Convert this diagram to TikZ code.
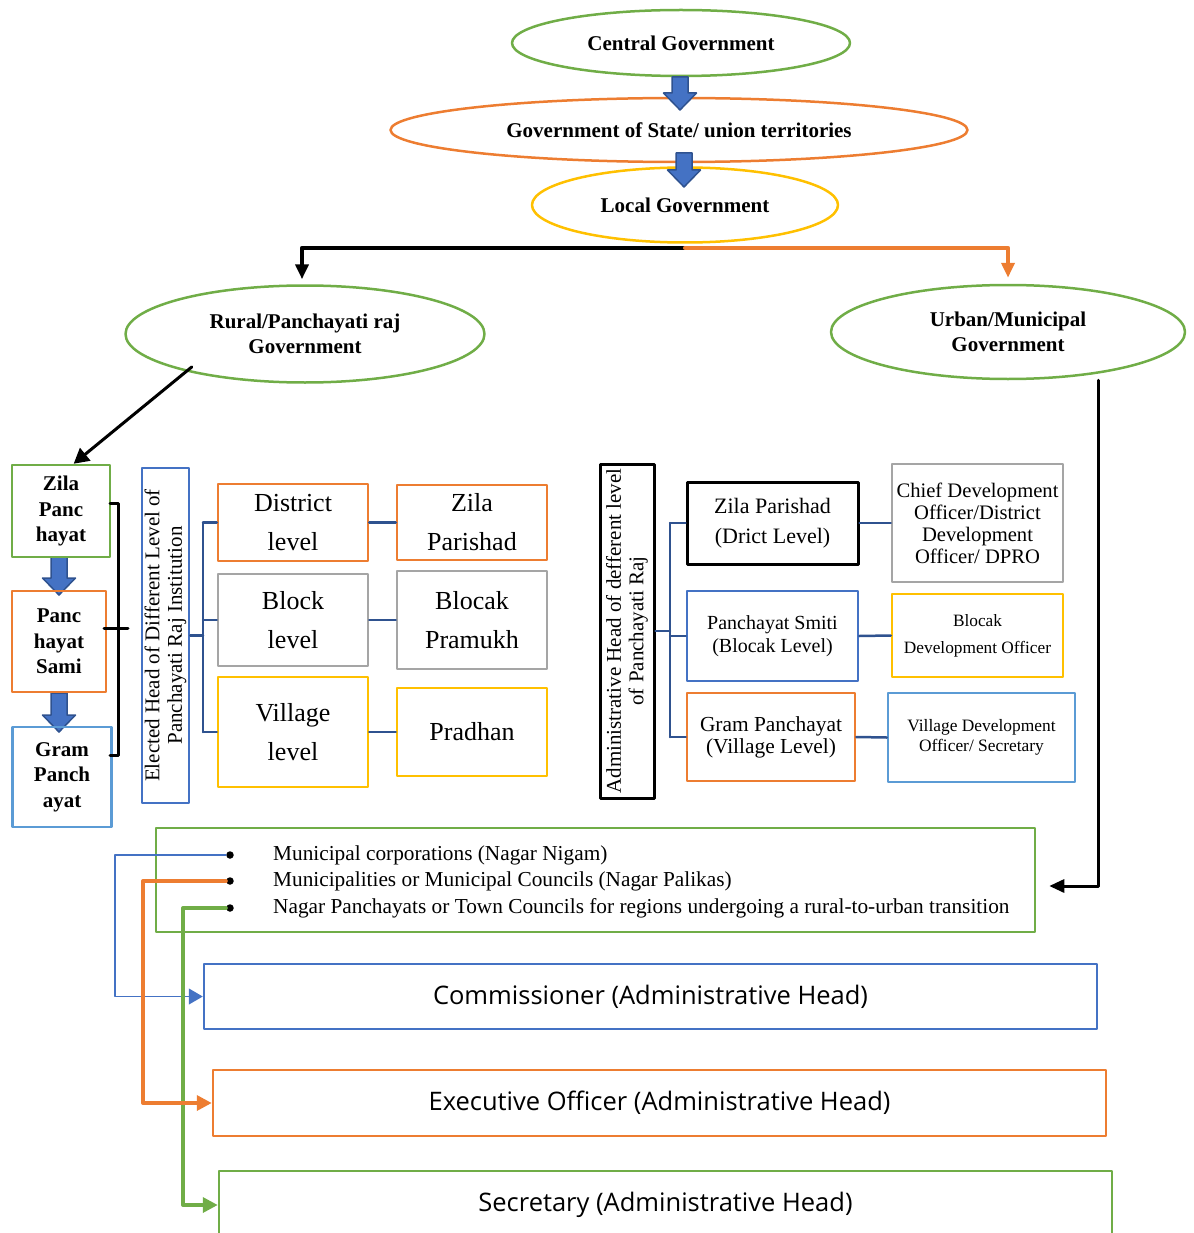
\documentclass[tikz,border=0pt]{standalone}
\usepackage{fontspec}
\setmainfont{Liberation Serif}
\setsansfont{Open Sans}
\usetikzlibrary{shapes.geometric,arrows.meta,calc}

\definecolor{cgreen}{HTML}{70AD47}
\definecolor{corange}{HTML}{ED7D31}
\definecolor{cyellow}{HTML}{FFC000}
\definecolor{cblue}{HTML}{4472C4}
\definecolor{clblue}{HTML}{5B9BD5}
\definecolor{cgray}{HTML}{A5A5A5}
\definecolor{cnavy}{HTML}{2F528F}

\tikzset{
  govell/.style={ellipse,draw,line width=2.5pt,inner sep=0pt,align=center,
    font=\bfseries\fontsize{21}{24.5}\selectfont},
  lvlbox/.style={draw,line width=2.5pt,inner sep=0pt,align=center},
  headbox/.style={draw,line width=2.5pt,inner sep=0pt,align=center,rotate=90,
    font=\fontsize{21}{22.5}\selectfont},
  tierbox/.style={lvlbox,font=\bfseries\fontsize{21}{25.5}\selectfont},
  levelbox/.style={lvlbox,minimum width=150pt,font=\fontsize{26}{39}\selectfont},
  urbhead/.style={lvlbox,minimum width=893pt,font=\sffamily\fontsize{25.5}{30}\selectfont},
  branch/.style={draw=cnavy,line width=2.5pt},
  blockarrow/.style={fill=cblue,draw=cnavy,line width=1.5pt},
  dot/.style={circle,fill=black,inner sep=0pt,minimum size=7.5pt},
  bullettext/.style={anchor=west,inner sep=0pt,font=\fontsize{21.3}{24}\selectfont}
}

\begin{document}
\begin{tikzpicture}[x=1pt,y=-1pt,line cap=round,line join=round]
  \useasboundingbox (0,0) rectangle (1193,1233);

  \node[govell,draw=cgreen,minimum width=338pt,minimum height=66pt] (cg) at (681,43) {Central Government};
  \node[govell,draw=corange,minimum width=577pt,minimum height=64pt] (sg) at (679,130) {Government of State/ union territories};
  \node[govell,draw=cyellow,minimum width=306pt,minimum height=75pt] (lg) at (685,205) {Local Government};
  \node[govell,draw=cgreen,minimum width=359pt,minimum height=97pt] (rg) at (305,334) {Rural/Panchayati raj\\Government};
  \node[govell,draw=cgreen,minimum width=354pt,minimum height=94pt] (ug) at (1008,332) {Urban/Municipal\\Government};

  \foreach \x/\y/\s in {680/77/16, 684/153/17, 59/557/21, 59/693/22} {
    \draw[blockarrow] (\x-8,\y) -- (\x+8,\y) -- (\x+8,\y+\s) -- (\x+16.5,\y+\s)
      -- (\x,\y+\s+17) -- (\x-16.5,\y+\s) -- (\x-8,\y+\s) -- cycle;
  }

  \draw[line width=4pt,-{Triangle[length=15pt,width=13pt]},shorten >=5pt]
    ($(lg.south)+(0,4)$) -| ($(rg.north)+(-3,0)$);
  \draw[corange,line width=4pt,-{Triangle[length=15pt,width=13pt]},shorten >=6pt]
    ($(lg.south)+(0,4)$) -| (ug.north);

  \node[tierbox,draw=cgreen,minimum width=98pt,minimum height=92pt] (zl) at (61,511) {Zila\\Panc\\hayat};
  \node[tierbox,draw=corange,minimum width=94pt,minimum height=101pt] (ps) at (59,641.5) {Panc\\hayat\\Sami};
  \node[tierbox,draw=clblue,minimum width=99pt,minimum height=100pt] (gp) at (62,777) {Gram\\Panch\\ayat};
  \draw[line width=3pt,-{Triangle[length=15pt,width=16pt]}] ($(rg.-164)+(12,-3)$) -- (zl.75);
  \draw[line width=3pt] (110,503) -- (118,503) -- (118,755) -- (110,755);
  \draw[line width=3pt] (104,628) -- (128,628);

  \node[headbox,draw=cblue,minimum width=335pt,minimum height=47pt] (eh) at (165.5,635.5)
    {Elected Head of Different Level of\\Panchayati Raj Institution};
  \node[levelbox,draw=corange,minimum height=77pt] (dl) at (293,522.5) {District\\level};
  \node[levelbox,draw=cgray,minimum height=92pt] (bl) at (293,620) {Block\\level};
  \node[levelbox,draw=cyellow,minimum height=110pt] (vl) at (293,732) {Village\\level};
  \node[levelbox,draw=corange,minimum height=75pt] (zpa) at (472,522.5) {Zila\\Parishad};
  \node[levelbox,draw=cgray,minimum height=98pt] (bp) at (472,620) {Blocak\\Pramukh};
  \node[levelbox,draw=cyellow,minimum height=88pt] (pr) at (472,732) {Pradhan};
  \coordinate (ej) at (203,635.5);
  \draw[branch] (eh.south) -- (ej);
  \draw[branch] (dl.west -| ej) -- (vl.west -| ej);
  \foreach \a/\b in {dl/zpa, bl/bp, vl/pr} {
    \draw[branch] (\a.west -| ej) -- (\a.west);
    \draw[branch] (\a.east) -- (\b.west);
  }

  \node[headbox,line width=3pt,minimum width=334pt,minimum height=54pt] (ah) at (627,631)
    {Administrative Head of defferent level\\of Panchayati Raj};
  \node[lvlbox,line width=3pt,minimum width=171pt,minimum height=82pt,
    font=\fontsize{22}{30}\selectfont] (zd) at (772.5,523) {Zila Parishad\\(Drict Level)};
  \node[lvlbox,draw=cblue,minimum width=171pt,minimum height=90pt,
    font=\fontsize{20}{22.5}\selectfont] (pss) at (772.5,636) {Panchayat Smiti\\(Blocak Level)};
  \node[lvlbox,draw=corange,minimum width=168pt,minimum height=88pt,
    font=\fontsize{21.4}{22}\selectfont] (gpv) at (771,737) {Gram Panchayat\\(Village Level)};
  \node[lvlbox,draw=cgray,minimum width=171pt,minimum height=118pt,
    font=\fontsize{20.6}{22}\selectfont] (cdo) at (977.5,523) {Chief Development\\Officer/District\\Development\\Officer/ DPRO};
  \node[lvlbox,draw=cyellow,minimum width=171pt,minimum height=83pt,
    font=\fontsize{17.3}{27}\selectfont] (bdo) at (977.5,635.5) {Blocak\\Development Officer};
  \node[lvlbox,draw=clblue,minimum width=187pt,minimum height=89pt,
    font=\fontsize{17.4}{20}\selectfont] (vdo) at (981.5,737.5) {Village Development\\Officer/ Secretary};
  \coordinate (aj) at (670,631);
  \draw[branch] (ah.south) -- (aj);
  \draw[branch] (zd.west -| aj) -- (gpv.west -| aj);
  \foreach \a/\b in {zd/cdo, pss/bdo, gpv/vdo} {
    \draw[branch] (\a.west -| aj) -- (\a.west);
    \draw[branch] (\a.east) -- (\b.west);
  }

  \node[lvlbox,draw=cgreen,minimum width=879pt,minimum height=104pt] (ub) at (595.5,880) {};
  \node[dot] (d1) at (230,855) {};
  \node[dot] (d2) at (230,881) {};
  \node[dot] (d3) at (230,908) {};
  \node[bullettext] (m1) at (273,855) {Municipal corporations (Nagar Nigam)};
  \node[bullettext] (m2) at (273,881) {Municipalities or Municipal Councils (Nagar Palikas)};
  \node[bullettext] (m3) at (273,908) {Nagar Panchayats or Town Councils for regions undergoing a rural-to-urban transition};
  \draw[line width=3pt,-{Triangle[length=15pt,width=13pt]},shorten >=13pt]
    ($(ug.south)+(90,0)$) |- ($(ub.east)+(0,6)$);

  \node[urbhead,draw=cblue,minimum height=65pt] (com) at (650.5,996.5) {Commissioner (Administrative Head)};
  \node[urbhead,draw=corange,minimum height=66pt] (exo) at (659.5,1103) {Executive Officer (Administrative Head)};
  \node[urbhead,draw=cgreen,minimum height=68pt] (sec) at (665.5,1205) {Secretary (Administrative Head)};
  \draw[cblue,line width=1.2pt,-{Triangle[length=14pt,width=16pt]}] (d1.west) -- ++(-111,0) |- (com.west);
  \draw[cgreen,line width=3.5pt,-{Triangle[length=15pt,width=15pt]}] (d3.west) -- ++(-43,0) |- (sec.west);
  \draw[corange,line width=3.5pt,-{Triangle[length=15pt,width=15pt]}] (d2.west) -- ++(-83,0) |- (exo.west);
\end{tikzpicture}
\end{document}
